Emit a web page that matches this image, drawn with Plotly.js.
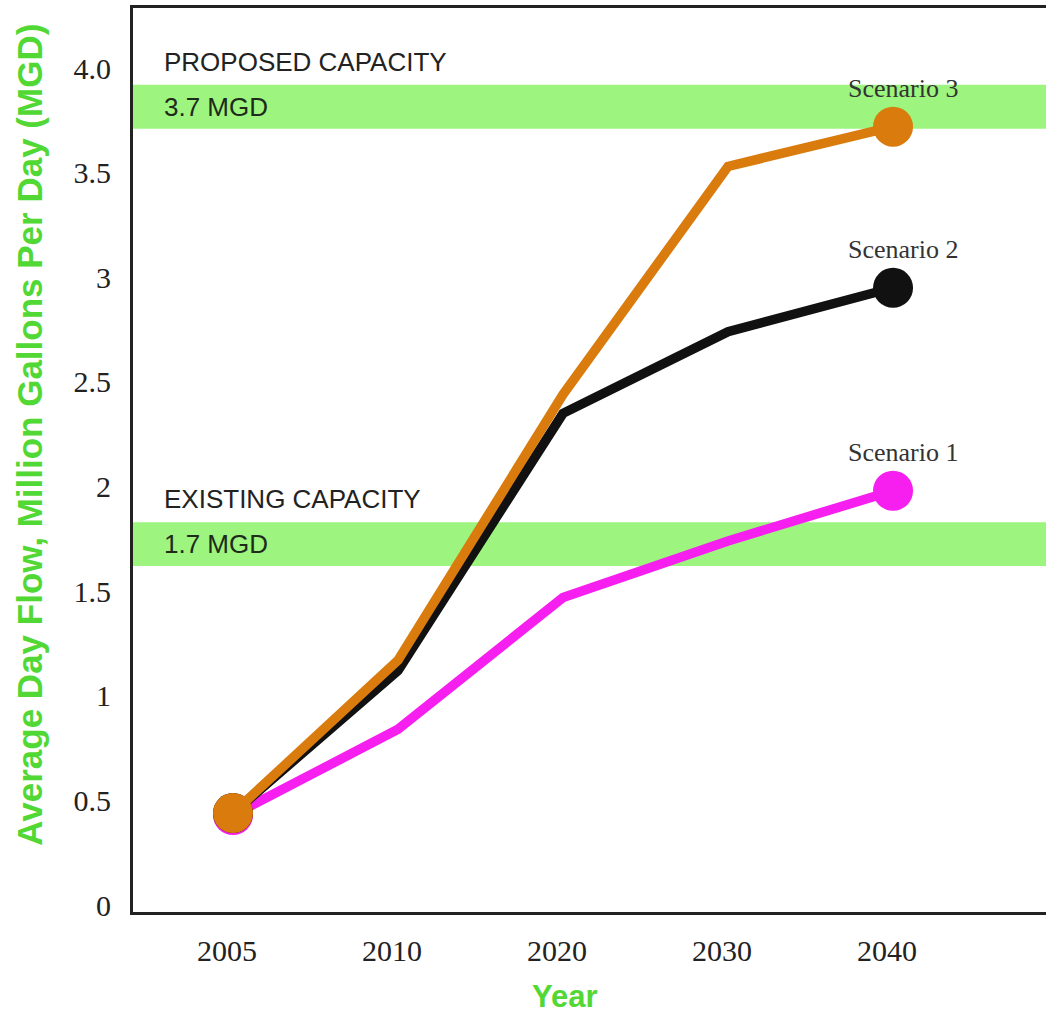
<!DOCTYPE html>
<html>
<head>
<meta charset="utf-8">
<script src="https://cdn.plot.ly/plotly-3.0.1.min.js"></script>
<style>
  html, body { margin: 0; padding: 0; background: #fff; }
  #chart { width: 1046px; height: 1013px; }
</style>
</head>
<body>
<div id="chart"></div>
<script>
// Projected average day flow (MGD) by planning year
const years = ['2005', '2010', '2020', '2030', '2040'];
const scenario1 = [0.43, 0.84, 1.47, 1.74, 1.98];
const scenario2 = [0.44, 1.12, 2.35, 2.74, 2.95];
const scenario3 = [0.44, 1.17, 2.44, 3.53, 3.72];
const seriesNames = ['Scenario 1', 'Scenario 2', 'Scenario 3'];

// Treatment plant capacity bands [low, high] in MGD
const proposedBand = [3.71, 3.92];
const existingBand = [1.62, 1.83];
const capacityHeaders = ['PROPOSED CAPACITY', 'EXISTING CAPACITY'];
const capacityValues = ['3.7 MGD', '1.7 MGD'];

const yTickVals = [0, 0.5, 1, 1.5, 2, 2.5, 3, 3.5, 4];
const yTickText = ['0', '0.5', '1', '1.5', '2', '2.5', '3', '3.5', '4.0'];

const colors = ['#f71ef0', '#111111', '#d97b0d'];
const lastIdx = years.length - 1;
const endSizes = years.map((_, i) => (i === 0 || i === lastIdx) ? 40 : 0);

const series = [scenario1, scenario2, scenario3];
const traces = series.map((vals, i) => ({
  type: 'scatter',
  mode: 'lines+markers',
  x: years,
  y: vals,
  name: seriesNames[i],
  line: { color: colors[i], width: 9.5 },
  marker: { color: colors[i], size: endSizes, opacity: 1, line: { width: 0 } },
  opacity: 1,
  cliponaxis: false,
  hoverinfo: 'x+y+name'
}));

const green = '#9df57f';
const shapes = [proposedBand, existingBand].map(b => ({
  type: 'rect', xref: 'paper', yref: 'y', x0: 0, x1: 1, y0: b[0], y1: b[1],
  fillcolor: green, line: { width: 0 }, layer: 'below'
}));

const sansFamily = 'Liberation Sans, Arial, sans-serif';
const serifFamily = 'Liberation Serif, Times New Roman, serif';
const titleGreen = '#52d834';

const annotations = [];
[proposedBand, existingBand].forEach((b, i) => {
  const mid = (b[0] + b[1]) / 2;
  annotations.push({
    xref: 'paper', yref: 'y', x: 0.032, y: mid, yshift: 45,
    xanchor: 'left', yanchor: 'middle', showarrow: false,
    text: capacityHeaders[i],
    font: { family: sansFamily, size: 26, color: '#222' }
  });
  annotations.push({
    xref: 'paper', yref: 'y', x: 0.032, y: mid,
    xanchor: 'left', yanchor: 'middle', showarrow: false,
    text: capacityValues[i],
    font: { family: sansFamily, size: 26, color: '#1e2a1a' }
  });
});
series.forEach((vals, i) => {
  annotations.push({
    xref: 'x', yref: 'y', x: lastIdx, y: vals[lastIdx],
    xshift: 10, yshift: 38, xanchor: 'center', yanchor: 'middle', showarrow: false,
    text: seriesNames[i],
    font: { family: serifFamily, size: 26, color: '#333' }
  });
});
annotations.push({
  xref: 'paper', yref: 'paper', x: -0.1128, y: 0.528, textangle: -90,
  xanchor: 'center', yanchor: 'middle', showarrow: false,
  text: '<b>Average Day Flow, Million Gallons Per Day (MGD)</b>',
  font: { family: sansFamily, size: 35, color: titleGreen }
});
annotations.push({
  xref: 'paper', yref: 'paper', x: 0.473, y: -0.093,
  xanchor: 'center', yanchor: 'middle', showarrow: false,
  text: '<b>Year</b>',
  font: { family: sansFamily, size: 31, color: titleGreen }
});

const layout = {
  width: 1046, height: 1013,
  margin: { l: 133, r: 0, t: 8, b: 101 },
  paper_bgcolor: '#fff', plot_bgcolor: '#fff',
  showlegend: false,
  xaxis: {
    type: 'category', range: [-0.606, 4.927],
    showline: true, mirror: true, linecolor: '#222', linewidth: 3,
    showgrid: false, zeroline: false, ticks: '',
    ticklabelstandoff: 10, ticklabelshift: -6,
    tickfont: { family: serifFamily, size: 30, color: '#222' }
  },
  yaxis: {
    range: [-0.033, 4.287],
    tickvals: yTickVals, ticktext: yTickText,
    showline: true, mirror: false, linecolor: '#222', linewidth: 3,
    showgrid: false, zeroline: false, ticks: '',
    ticklabelstandoff: 13,
    tickfont: { family: serifFamily, size: 30, color: '#222' }
  },
  shapes: shapes,
  annotations: annotations
};

Plotly.newPlot('chart', traces, layout, { displayModeBar: false, staticPlot: true });
</script>
</body>
</html>
